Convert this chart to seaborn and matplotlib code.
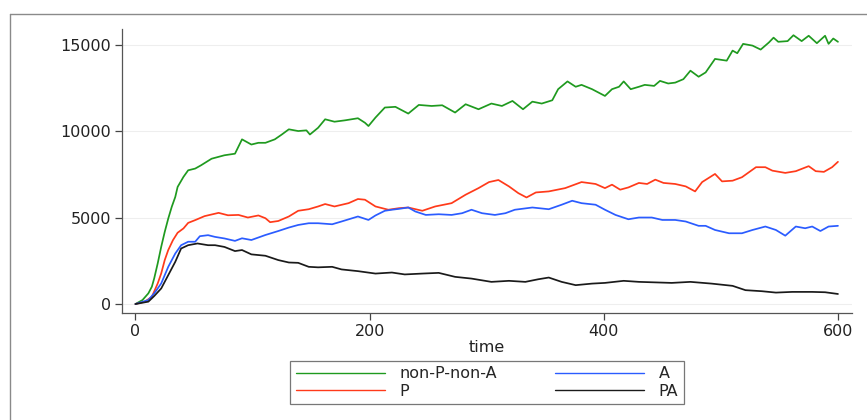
import matplotlib
matplotlib.use("Agg")
import matplotlib.pyplot as plt
from matplotlib.lines import Line2D
import pandas as pd
import seaborn as sns

# ---- data ----
t_green = [0, 6, 11, 14, 16, 19, 22, 25, 28, 31,
           34, 36, 41, 45, 51, 56, 65, 76, 85, 91,
           99, 105, 111, 119, 125, 131, 139, 146, 149, 156,
           162, 170, 179, 190, 196, 199, 205, 213, 222, 233,
           242, 253, 262, 273, 282, 293, 304, 313, 322, 331,
           339, 347, 356, 361, 369, 376, 381, 390, 401, 407,
           413, 417, 423, 430, 435, 443, 448, 455, 461, 468,
           474, 481, 487, 495, 501, 505, 510, 514, 519, 527,
           534, 541, 545, 549, 557, 562, 569, 575, 582, 589,
           592, 596, 600]
v_green = [0, 230, 615, 1000, 1480, 2350, 3310, 4170, 4940, 5620,
           6190, 6770, 7350, 7730, 7830, 8020, 8400, 8600, 8690, 9520,
           9220, 9320, 9320, 9520, 9800, 10100, 10000, 10040, 9800, 10190,
           10680, 10540, 10620, 10740, 10480, 10290, 10780, 11360, 11400, 11010,
           11510, 11450, 11490, 11070, 11550, 11260, 11590, 11450, 11740, 11260,
           11700, 11590, 11780, 12420, 12870, 12560, 12670, 12420, 12030, 12420,
           12560, 12870, 12420, 12560, 12670, 12610, 12900, 12750, 12800, 13000,
           13490, 13140, 13390, 14170, 14110, 14070, 14650, 14500, 15040, 14940,
           14710, 15120, 15400, 15160, 15200, 15540, 15200, 15510, 15080, 15510,
           15040, 15350, 15160]

t_red = [0, 8, 14, 19, 22, 25, 28, 32, 36, 41,
         45, 51, 59, 71, 79, 88, 96, 105, 111, 115,
         122, 131, 139, 148, 156, 162, 170, 182, 190, 196,
         205, 216, 225, 233, 245, 256, 270, 282, 293, 302,
         310, 319, 327, 334, 342, 353, 367, 381, 393, 401,
         407, 414, 421, 430, 437, 444, 451, 461, 470, 478,
         484, 495, 501, 510, 518, 530, 538, 544, 555, 564,
         575, 581, 588, 595, 600]
v_red = [0, 135, 420, 1190, 1770, 2540, 3120, 3690, 4120, 4370,
         4690, 4850, 5080, 5270, 5130, 5150, 5000, 5120, 4960, 4730,
         4800, 5060, 5390, 5480, 5640, 5780, 5640, 5830, 6070, 6030,
         5640, 5450, 5540, 5580, 5390, 5640, 5830, 6320, 6700, 7050,
         7170, 6800, 6410, 6160, 6450, 6510, 6700, 7050, 6940, 6700,
         6900, 6610, 6740, 7000, 6940, 7190, 7000, 6940, 6800, 6510,
         7050, 7520, 7090, 7130, 7330, 7910, 7910, 7710, 7580, 7680,
         7970, 7680, 7640, 7910, 8220]

t_blue = [0, 11, 16, 22, 28, 34, 39, 45, 51, 55,
          62, 68, 76, 85, 91, 99, 111, 122, 131, 139,
          148, 156, 168, 176, 190, 199, 205, 213, 219, 225,
          233, 239, 248, 259, 270, 279, 287, 296, 307, 316,
          324, 339, 353, 364, 373, 381, 393, 401, 410, 421,
          430, 441, 450, 461, 470, 481, 487, 495, 507, 518,
          527, 538, 547, 555, 564, 572, 578, 585, 592, 600]
v_blue = [0, 230, 615, 1190, 2150, 2920, 3400, 3600, 3600, 3920,
          3980, 3880, 3790, 3650, 3800, 3700, 3990, 4220, 4420, 4570,
          4670, 4670, 4610, 4770, 5060, 4860, 5120, 5390, 5450, 5500,
          5580, 5350, 5150, 5190, 5150, 5250, 5450, 5250, 5150, 5250,
          5450, 5580, 5480, 5740, 5970, 5830, 5740, 5450, 5150, 4900,
          5000, 5000, 4860, 4860, 4770, 4520, 4520, 4280, 4090, 4090,
          4280, 4480, 4280, 3950, 4480, 4380, 4480, 4220, 4480, 4520]

t_black = [0, 11, 16, 22, 28, 34, 39, 45, 53, 62,
           68, 76, 85, 91, 99, 111, 122, 131, 139, 148,
           156, 168, 176, 190, 205, 219, 230, 245, 259, 273,
           287, 304, 319, 333, 344, 353, 364, 376, 390, 401,
           417, 430, 444, 458, 474, 492, 510, 521, 535, 547,
           561, 578, 589, 600]
v_black = [0, 135, 460, 900, 1670, 2440, 3210, 3400, 3500, 3400,
           3400, 3300, 3060, 3120, 2870, 2790, 2540, 2400, 2380, 2150,
           2120, 2150, 2000, 1900, 1760, 1820, 1710, 1760, 1800, 1570,
           1470, 1280, 1340, 1280, 1430, 1530, 1280, 1090, 1180, 1220,
           1340, 1280, 1250, 1220, 1280, 1180, 1050, 800, 740, 660,
           700, 700, 680, 580]

series_names = ["non-P-non-A", "P", "A", "PA"]
x_ticks = [0, 200, 400, 600]
y_ticks = [0, 5000, 10000, 15000]
x_label = "time"

# ---- build long table ----
frames = []
for name, t, v in zip(series_names,
                      [t_green, t_red, t_blue, t_black],
                      [v_green, v_red, v_blue, v_black]):
    frames.append(pd.DataFrame({"time": t, "value": v, "series": name}))
df = pd.concat(frames, ignore_index=True)

palette = {"non-P-non-A": "#1f9a1f", "P": "#ff3a1a", "A": "#2b5cff", "PA": "#1a1a1a"}

sns.set_style("white")
plt.rcParams["font.family"] = ["DejaVu Sans"]

fig = plt.figure(figsize=(8.67, 4.2), dpi=100)
ax = fig.add_axes([122 / 867, 1 - 313 / 420, (852 - 122) / 867, (313 - 29) / 420])

sns.lineplot(data=df, x="time", y="value", hue="series", hue_order=series_names,
             palette=palette, linewidth=1.25, ax=ax, estimator=None, sort=True)

ax.set_xlim(-11.5, 612)
ax.set_ylim(-520, 15900)
ax.set_xticks(x_ticks)
ax.set_yticks(y_ticks)
ax.set_xticklabels([str(v) for v in x_ticks], fontsize=11.5, color="#222222")
ax.set_yticklabels([str(v) for v in y_ticks], fontsize=11.5, color="#222222")
ax.tick_params(axis="both", direction="out", length=5, width=0.9, color="#444444",
               left=True, bottom=True, pad=3)
ax.set_xlabel(x_label, fontsize=11.5, color="#222222", labelpad=1)
ax.set_ylabel("")
ax.yaxis.grid(True, color="#eeeeee", linewidth=0.8)
ax.xaxis.grid(False)
ax.set_axisbelow(True)
for s in ["top", "right"]:
    ax.spines[s].set_visible(False)
for s in ["left", "bottom"]:
    ax.spines[s].set_color("#555555")
    ax.spines[s].set_linewidth(0.9)

handles, labels = ax.get_legend_handles_labels()
ax.get_legend().remove()
leg = fig.legend(handles, labels, ncol=2, loc="center",
                 bbox_to_anchor=(487 / 867, 1 - 382.5 / 420),
                 fontsize=11.5, frameon=True, fancybox=False,
                 handlelength=5.6, handletextpad=0.9, columnspacing=3.6,
                 borderpad=0.35, labelspacing=0.15)
leg.get_frame().set_edgecolor("#555555")
leg.get_frame().set_linewidth(0.9)
for ln in leg.get_lines():
    ln.set_linewidth(1.0)

# outer frame (partially visible in the reference)
fig.add_artist(Line2D([10 / 867, 10 / 867], [0, 1 - 14 / 420],
                      transform=fig.transFigure, color="#8a8a8a", linewidth=1.0))
fig.add_artist(Line2D([10 / 867, 1], [1 - 14 / 420, 1 - 14 / 420],
                      transform=fig.transFigure, color="#8a8a8a", linewidth=1.0))

fig.savefig("out.png", dpi=100, facecolor="white")
